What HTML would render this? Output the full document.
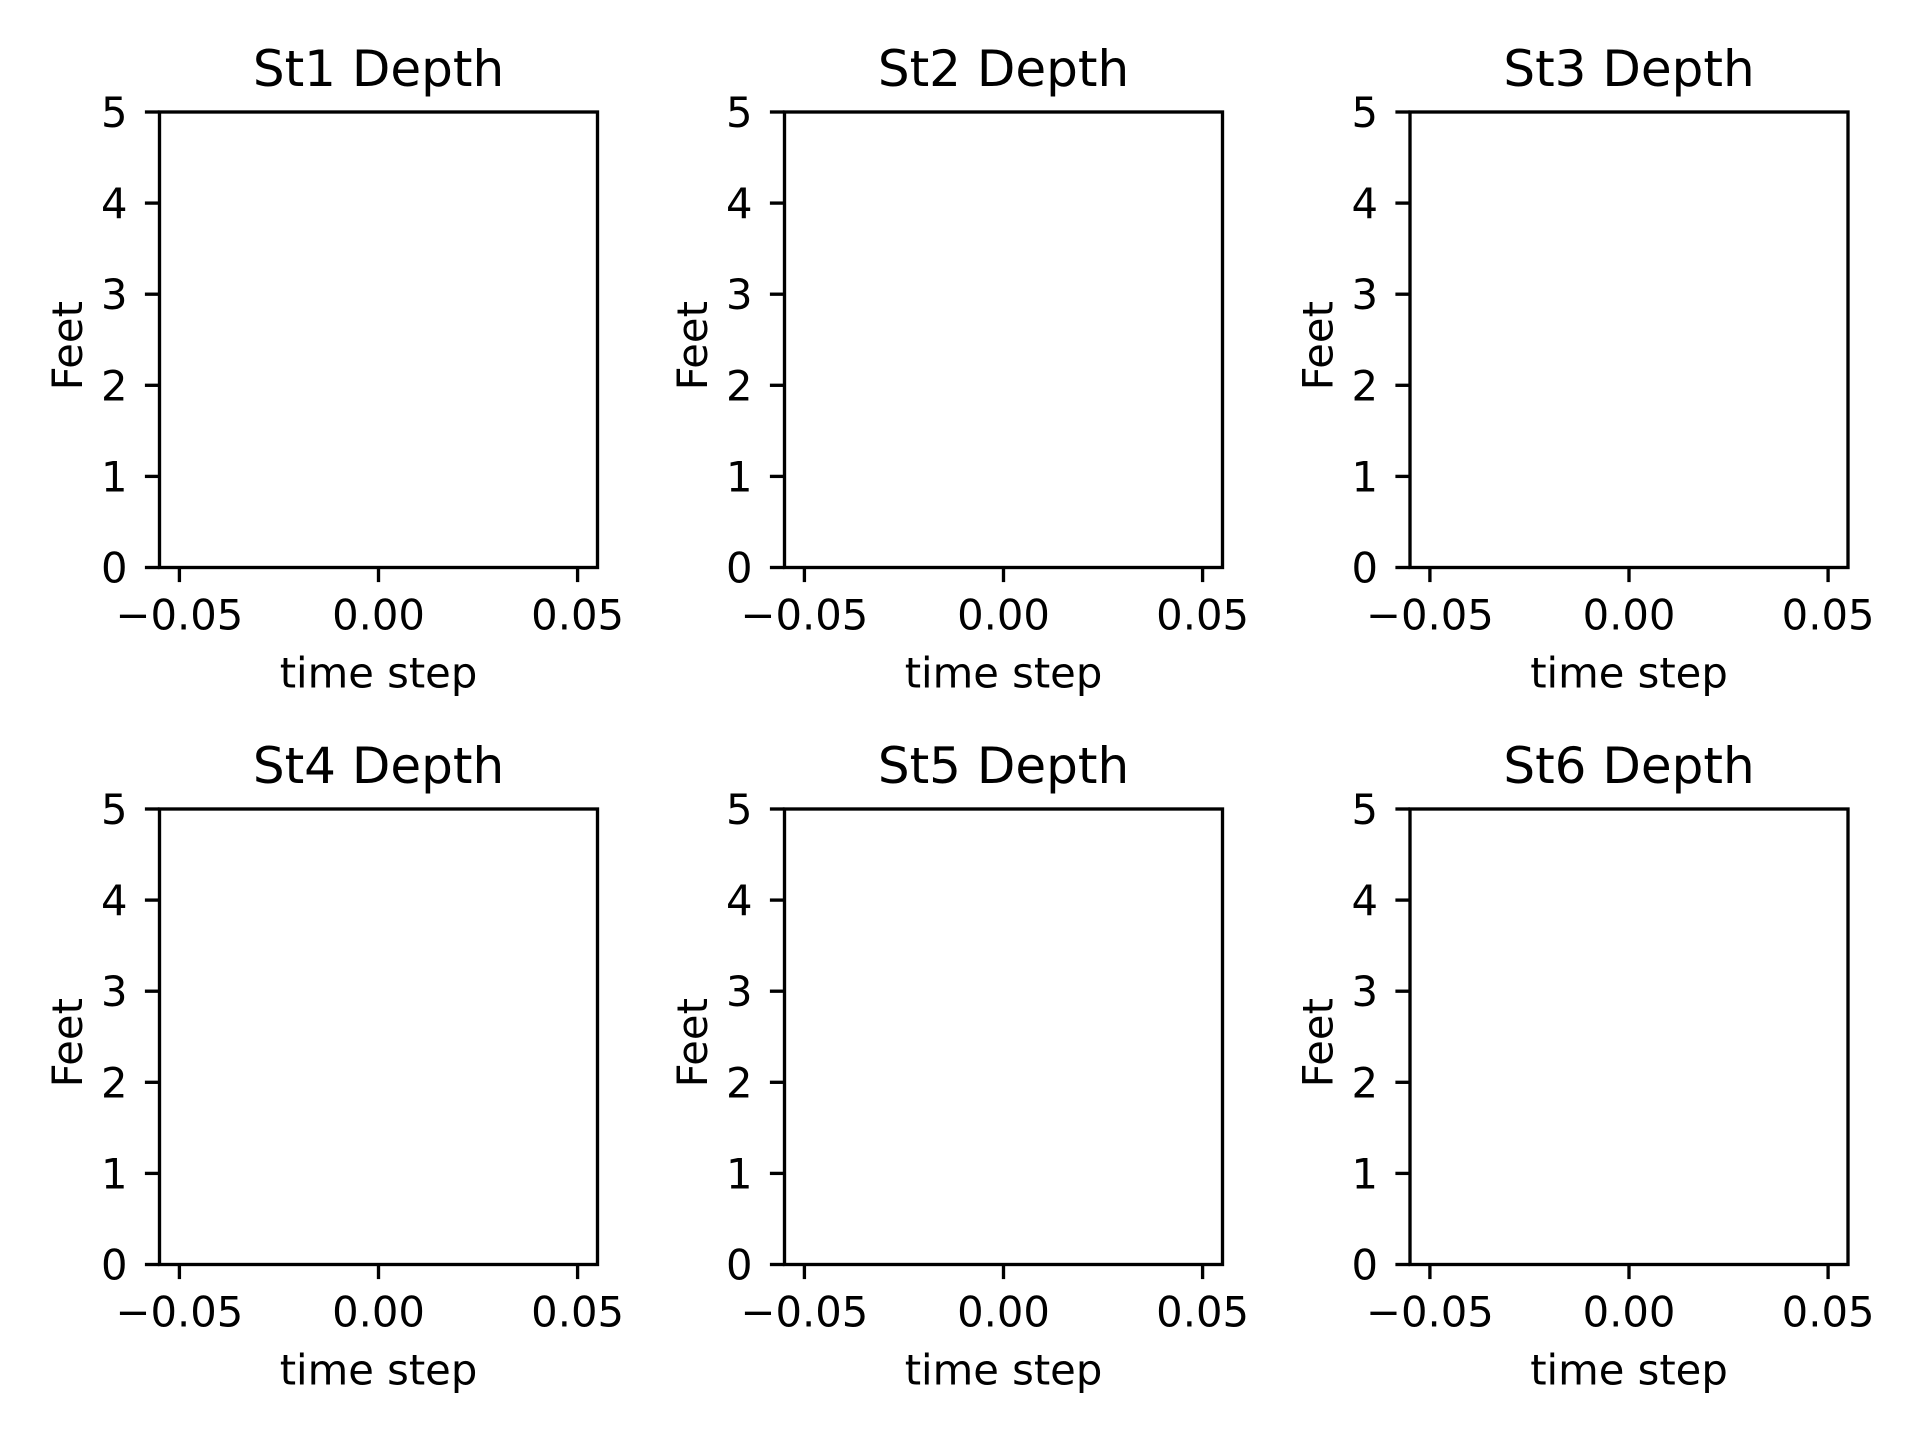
<!DOCTYPE html>
<html><head><meta charset="utf-8"><style>
html,body{margin:0;padding:0;background:#fff}
svg{display:block}
text{font-family:"DejaVu Sans","Liberation Sans",sans-serif;fill:#000}
</style></head><body>
<svg id="fig" width="1920" height="1440" xmlns="http://www.w3.org/2000/svg"></svg>
<script>
const titles = ["St1 Depth","St2 Depth","St3 Depth","St4 Depth","St5 Depth","St6 Depth"];
const xTicks = [-0.05, 0.00, 0.05];
const xTickLabels = ["\u22120.05","0.00","0.05"];
const yTicks = [0,1,2,3,4,5];
const yTickLabels = ["0","1","2","3","4","5"];
const xDomain = [-0.055, 0.055];
const yDomain = [0, 5];

const NS = "http://www.w3.org/2000/svg";
const svg = document.getElementById('fig');
const lefts = [159.5, 784.5, 1410];
const tops = [112, 809];
const W = 438, H = 455.5;
function mk(tag, attrs, parent){const e=document.createElementNS(NS,tag);for(const k in attrs)e.setAttribute(k,attrs[k]);parent.appendChild(e);return e;}

titles.forEach((t,i)=>{
  const L = lefts[i%3], T = tops[Math.floor(i/3)];
  const xs = v => L + (v - xDomain[0])/(xDomain[1]-xDomain[0])*W;
  const ys = v => T + H - (v - yDomain[0])/(yDomain[1]-yDomain[0])*H;
  const g = mk('g',{},svg);
  
  
  const r = mk('rect',{x:L,y:T,width:W,height:H,fill:'none',stroke:'#000','stroke-width':3.33},g);
  
  
  const tt = mk('text',{x:L+W/2,y:T-26,'font-size':50,'text-anchor':'middle'},g);
  tt.textContent = t;
  
  
  xTicks.forEach((v,k)=>{
    const x = xs(v);
    const ln = mk('line',{x1:x,x2:x,y1:T+H,y2:T+H+14.6,stroke:'#000','stroke-width':3.33},g);
    
    
    const lb = mk('text',{x:x,y:T+H+62,'font-size':41.7,'text-anchor':'middle'},g);
    lb.textContent = xTickLabels[k];
    
    
  });
  yTicks.forEach((v,k)=>{
    const y = ys(v);
    const ln = mk('line',{x1:L-14.6,x2:L,y1:y,y2:y,stroke:'#000','stroke-width':3.33},g);
    
    
    const lb = mk('text',{x:L-32,y:y+15,'font-size':41.7,'text-anchor':'end'},g);
    lb.textContent = yTickLabels[k];
    
    
  });
  const xl = mk('text',{x:L+W/2,y:T+H+120,'font-size':41.7,'text-anchor':'middle'},g);
  xl.textContent = 'time step';
  
  
  const cy = T+H/2+6;
  const yl = mk('text',{x:L-77.5,y:cy,'font-size':41.7,'text-anchor':'middle',transform:`rotate(-90 ${L-77.5} ${cy})`},g);
  yl.textContent = 'Feet';
  
  
});
</script>
</body></html>
